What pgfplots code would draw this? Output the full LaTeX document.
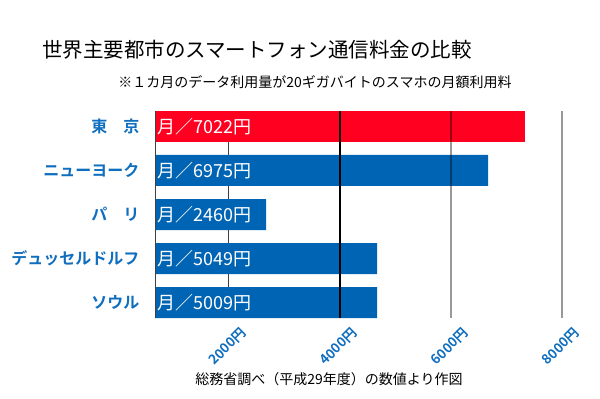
\documentclass[border=0pt]{standalone}
\usepackage{pgfplots}
\pgfplotsset{compat=1.18}
\usepackage{fontspec}
\setmainfont{Noto Sans CJK JP}[BoldFont={Noto Sans CJK JP Bold}]
\definecolor{barblue}{RGB}{0,100,180}
\definecolor{barred}{RGB}{255,0,32}
\definecolor{txtblue}{RGB}{16,110,190}
\begin{document}
\begin{tikzpicture}
\useasboundingbox (0,0) rectangle (600bp,399bp);
\node[font=\fontsize{20.5bp}{24bp}\selectfont] at (257bp,349bp) {世界主要都市のスマートフォン通信料金の比較};
\node[font=\fontsize{14bp}{16bp}\selectfont] at (315bp,317bp) {※１カ月のデータ利用量が20ギガバイトのスマホの月額利用料};
\node[font=\fontsize{14bp}{16bp}\selectfont] at (329bp,20bp) {総務省調べ（平成29年度）の数値より作図};
\begin{axis}[
  at={(155bp,81bp)}, anchor=south west,
  scale only axis, width=415bp, height=207bp,
  xmin=667, xmax=8144, ymin=-0.352, ymax=4.352, y dir=reverse,
  xbar, bar width=31bp, bar shift=0pt,
  axis line style={draw=none},
  ytick={0,1,2,3,4},
  yticklabels={東　京,ニューヨーク,パ　リ,デュッセルドルフ,ソウル},
  yticklabel style={font=\fontsize{16bp}{18bp}\selectfont\bfseries, text=txtblue, xshift=-12bp},
  xtick={2000,4000,6000,8000},
  xticklabels={2000円,4000円,6000円,8000円},
  xticklabel style={rotate=45, anchor=east, font=\fontsize{13.5bp}{15bp}\selectfont\bfseries, text=txtblue, xshift=5bp, yshift=-19bp},
  major tick length=0pt,
]
\draw[black!75, line width=1bp] (axis cs:2000,-0.352) -- (axis cs:2000,4.352);
\addplot[fill=barred, draw=none] coordinates {(7333,0)};
\addplot[fill=barblue, draw=none] coordinates {(6667,1) (2667,2) (4667,3) (4667,4)};
\draw[black!75, line width=1bp] (axis cs:667,-0.352) -- (axis cs:667,4.352);
\draw[black, line width=1.3bp] (axis cs:4000,-0.352) -- (axis cs:4000,4.352);
\draw[black, opacity=0.4, line width=1.5bp] (axis cs:6000,-0.352) -- (axis cs:6000,4.352);
\draw[black, opacity=0.4, line width=1.5bp] (axis cs:8000,-0.352) -- (axis cs:8000,4.352);
\node[anchor=west, text=white, font=\fontsize{18bp}{20bp}\selectfont, inner sep=2bp] at (axis cs:667,0) {月／7022円};
\node[anchor=west, text=white, font=\fontsize{18bp}{20bp}\selectfont, inner sep=2bp] at (axis cs:667,1) {月／6975円};
\node[anchor=west, text=white, font=\fontsize{18bp}{20bp}\selectfont, inner sep=2bp] at (axis cs:667,2) {月／2460円};
\node[anchor=west, text=white, font=\fontsize{18bp}{20bp}\selectfont, inner sep=2bp] at (axis cs:667,3) {月／5049円};
\node[anchor=west, text=white, font=\fontsize{18bp}{20bp}\selectfont, inner sep=2bp] at (axis cs:667,4) {月／5009円};
\end{axis}
\end{tikzpicture}
\end{document}
